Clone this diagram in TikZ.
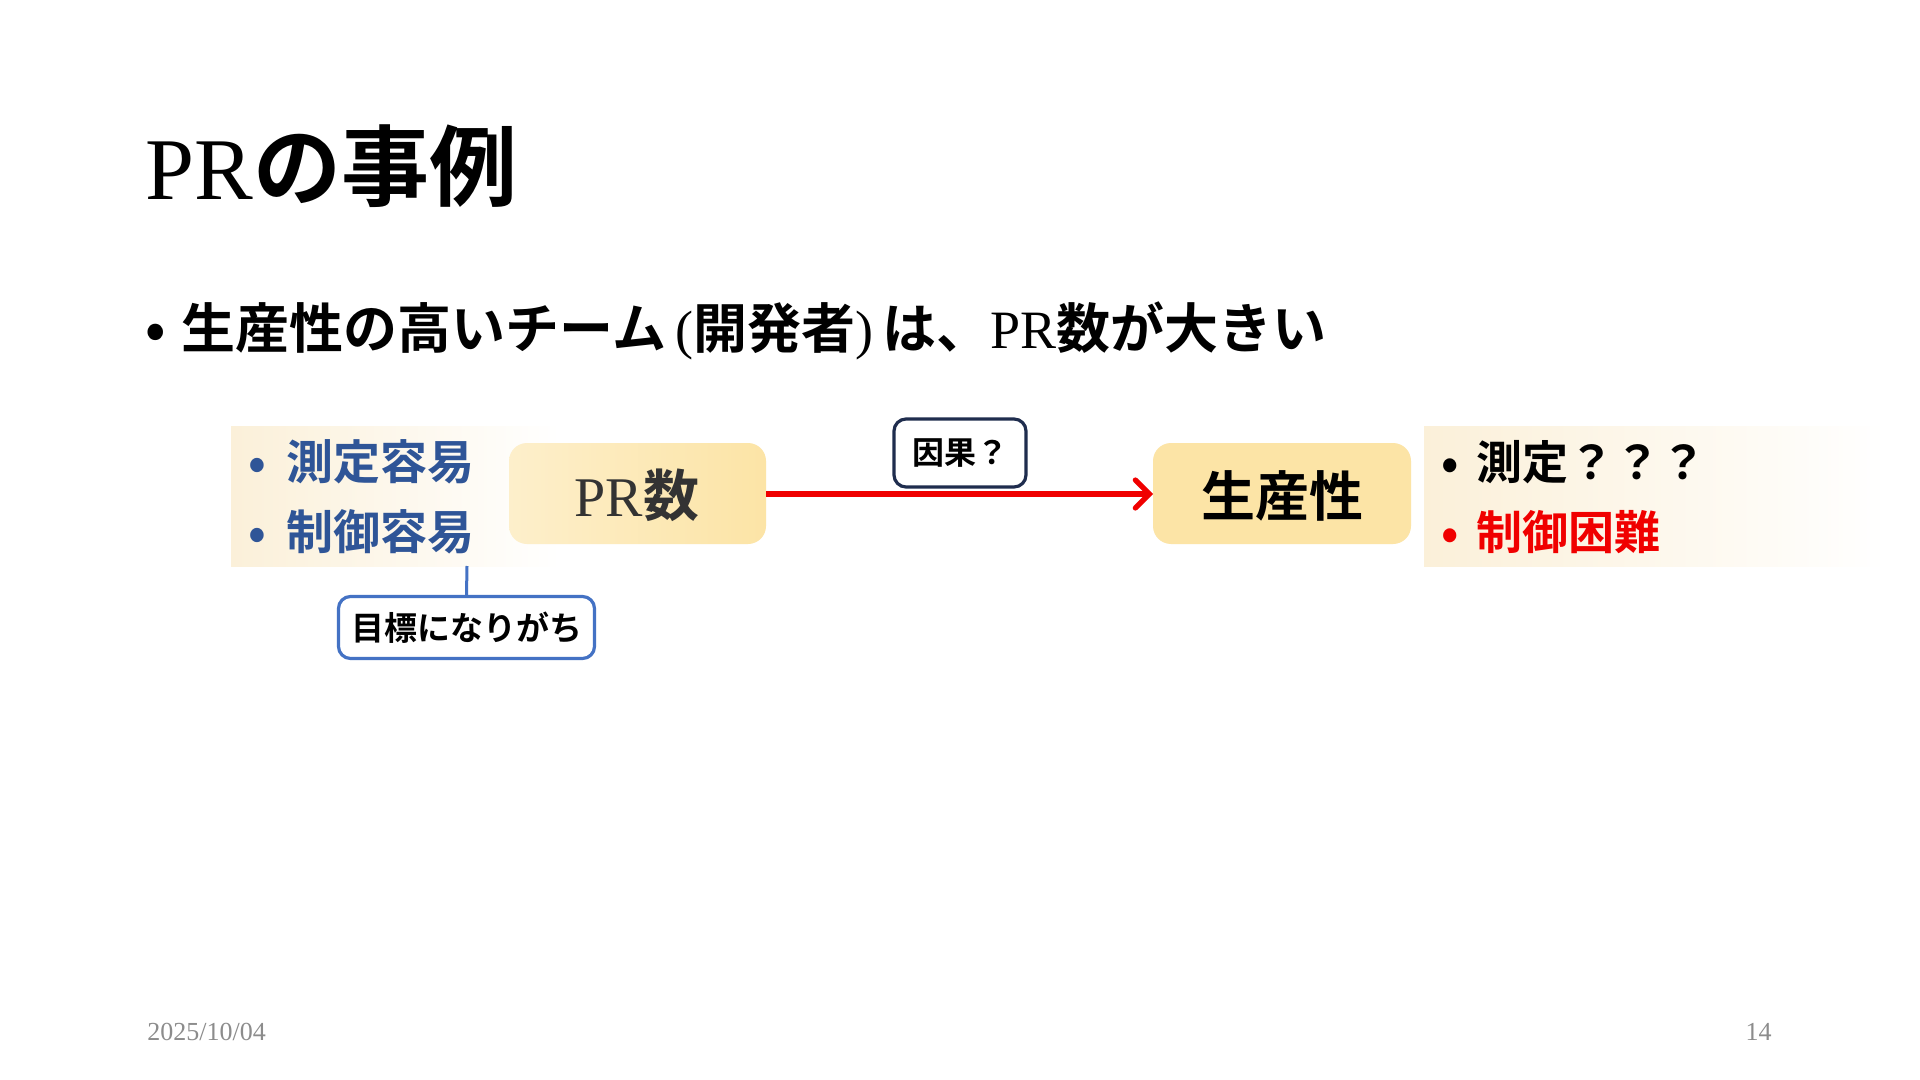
\documentclass[tikz,border=0pt]{standalone}
\usepackage{fontspec}
\setmainfont{Liberation Serif}
\newfontfamily\jp{Noto Sans CJK JP}[BoldFont={* Bold}]
\usetikzlibrary{arrows.meta,shapes.misc}
\definecolor{panelbeige}{HTML}{FBF0D9}
\definecolor{boxgold}{HTML}{FCE4A6}
\definecolor{boxgoldlight}{HTML}{FDEFCB}
\definecolor{easyblue}{HTML}{2F5597}
\definecolor{lineblue}{HTML}{4472C4}
\definecolor{navy}{HTML}{1F2D4E}
\definecolor{hardred}{HTML}{F00000}
\definecolor{footgray}{HTML}{8C8C8C}
\tikzset{
  goldbox/.style={rounded corners=9pt, inner sep=0pt},
  notebox/.style={draw, rounded corners=6pt, line width=1.6pt, fill=white, inner sep=0pt},
  txt/.style={inner sep=0pt, anchor=west},
}
\begin{document}
\begin{tikzpicture}[x=0.5pt,y=-0.5pt]
\useasboundingbox (0,0) rectangle (1920,1080);
\fill[white] (0,0) rectangle (1920,1080);
% title
\node[txt, anchor=base west] (title) at (145,200) {\fontsize{44pt}{48pt}\selectfont PR{\jp\bfseries の事例}};
% bullet line
\node[txt, anchor=base west] (bul) at (145,349) {\fontsize{27pt}{31pt}\selectfont {\jp\bfseries •\hspace{8pt}生産性の高いチーム}\,(\jp\bfseries 開発者{\rmfamily\mdseries )}\,は、{\rmfamily\mdseries PR}数が大きい};
% panels
\shade[left color=panelbeige, right color=white] (231,426) rectangle (560,566);
\shade[left color=panelbeige, right color=white] (1424,426) rectangle (1885,566);
\coordinate (lp) at (467,566);
% left bullets
\node[txt, text=easyblue] (l1) at (248,462) {\fontsize{23.5pt}{28pt}\selectfont\jp\bfseries •\hspace{10pt}測定容易};
\node[txt, text=easyblue] (l2) at (248,532) {\fontsize{23.5pt}{28pt}\selectfont\jp\bfseries •\hspace{10pt}制御容易};
% gold boxes
\shade[goldbox, left color=boxgoldlight, right color=boxgold] (509,443) rectangle (766,544);
\node[inner sep=0pt, text=black!80] (pr) at (637,495) {\fontsize{28pt}{32pt}\selectfont PR{\jp\bfseries 数}};
\coordinate (prE) at (766,494);
\fill[goldbox, boxgold] (1153,443) rectangle (1411,544);
\node[inner sep=0pt] (prod) at (1282,496) {\fontsize{27pt}{32pt}\selectfont\jp\bfseries 生産性};
\coordinate (prodW) at (1153,494);
% right bullets
\node[txt] (r1) at (1441,462) {\fontsize{23pt}{28pt}\selectfont\jp\bfseries •\hspace{9pt}測定？？？};
\node[txt, text=hardred] (r2) at (1441,532) {\fontsize{23pt}{28pt}\selectfont\jp\bfseries •\hspace{9pt}制御困難};
% arrow
\draw[hardred, line width=2.6pt, -{Straight Barb[length=7pt,width=14pt,line cap=round]}] (prE) -- (prodW);
% causal note
\node[notebox, draw=navy, minimum width=66pt, minimum height=34pt] (cause) at (960,453) {\fontsize{16pt}{20pt}\selectfont\jp\bfseries 因果？};
% goal note
\node[notebox, draw=lineblue, minimum width=128pt, minimum height=31pt] (goal) at (466.5,627.5) {\fontsize{16.5pt}{20pt}\selectfont\jp\bfseries 目標になりがち};
\draw[lineblue, line width=1.5pt] (lp) -- (goal.north);
% footer
\node[txt, text=footgray, anchor=base west] (date) at (147,1040) {\fontsize{13pt}{15pt}\selectfont 2025/10/04};
\node[txt, text=footgray, anchor=base east] (page) at (1772,1040) {\fontsize{13pt}{15pt}\selectfont 14};
\end{tikzpicture}
\end{document}
